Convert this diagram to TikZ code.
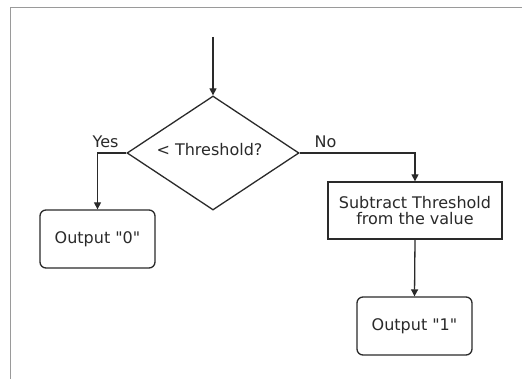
\documentclass[tikz,border=0pt]{standalone}
\usepackage{fontspec}
\setmainfont{DejaVu Sans}[Ligatures=TeXOff]
\usetikzlibrary{shapes.geometric,arrows.meta}
\definecolor{ink}{HTML}{2A2A2A}
\definecolor{framegray}{HTML}{9A9A9A}
\tikzset{
  every node/.style={font=\fontsize{16}{16.7}\selectfont, text=ink},
  link/.style={draw=ink, line width=1.3pt, -{Triangle[length=7pt,width=7pt]}},
  decision/.style={diamond, draw=ink, line width=1.3pt, minimum width=172pt,
                   minimum height=114pt, inner sep=0pt},
  outbox/.style={rectangle, rounded corners=6pt, draw=ink, line width=1.3pt,
                 minimum width=115pt, minimum height=58pt, inner sep=0pt},
  procbox/.style={rectangle, draw=ink, line width=1.3pt, minimum width=174pt,
                  minimum height=57pt, inner sep=0pt, align=center},
  tag/.style={anchor=base, inner sep=0pt}
}
\begin{document}
\begin{tikzpicture}[x=1pt, y=-1pt]
  \useasboundingbox (0,0) rectangle (522,379);
  \fill[white] (0,0) rectangle (522,379);
  % page frame
  \draw[framegray, line width=1pt] (10,379) -- (10,8) -- (522,8);

  % shapes
  \node[decision] (dec) at (213,153)
    {\makebox[0pt]{\hspace*{-7pt}\raisebox{7pt}{< Threshold?}}};
  \node[outbox] (out0) at (97.5,239) {Output "0"};
  \node[procbox] (sub) at (415,210.5) {Subtract Threshold\\from the value};
  \node[outbox] (out1) at (414.5,326) {Output "1"};

  % branch labels
  \node[tag] (yes) at (105.5,148) {Yes};
  \node[tag] (no) at (325.5,148) {No};

  % connectors
  \coordinate (entry) at (213,37);
  \draw[link] (entry) -- (dec.north);
  \draw[link] (dec.west) -| (out0.north);
  \draw[link] (dec.east) -| (sub.north);
  \draw[link] (sub.south) -- (out1.north);
\end{tikzpicture}
\end{document}
